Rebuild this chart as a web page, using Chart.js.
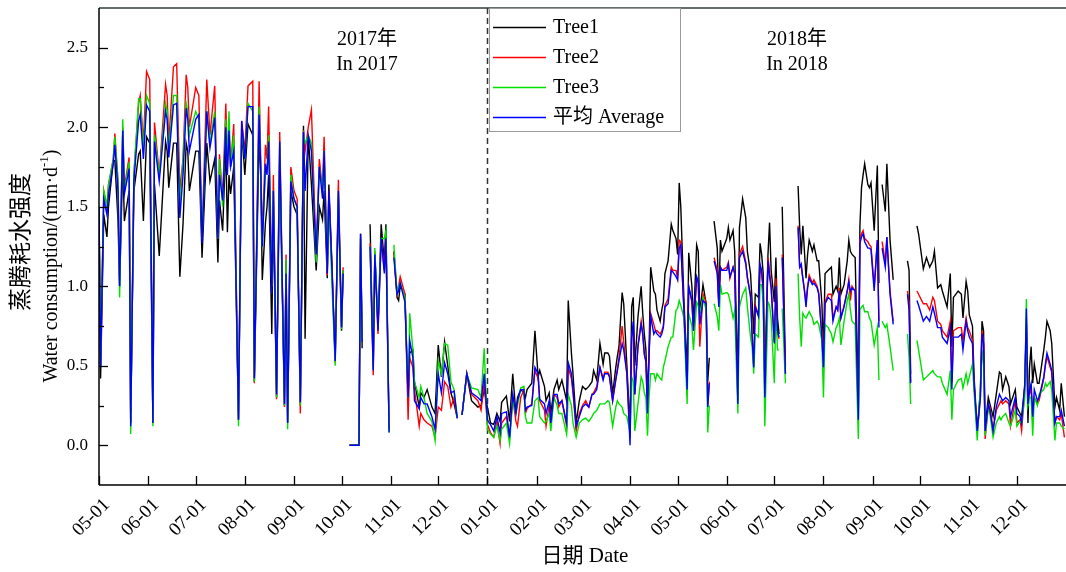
<!DOCTYPE html>
<html>
<head>
<meta charset="utf-8">
<script src="https://cdn.jsdelivr.net/npm/chart.js@4.4.0/dist/chart.umd.min.js"></script>
<style>
  html, body { margin: 0; padding: 0; background: #fff; }
  #wrap { width: 1066px; height: 572px; }
</style>
</head>
<body>
<div id="wrap"><canvas id="chart" width="1066" height="572"></canvas></div>
<script>
// day index counted from 2017-05-01 (0) to 2018-12-31 (609)
const DAYS = [
  0,1,3,5,6,9,10,12,13,15,
  16,19,20,22,25,26,28,30,32,34,
  35,38,42,43,44,47,49,51,53,55,
  56,57,61,63,65,68,70,73,75,76,
  78,80,81,82,83,85,88,90,92,94,
  97,98,101,102,103,105,106,107,109,110,
  112,114,117,118,119,121,123,125,127,129,
  130,132,134,137,139,141,142,144,145,147,
  149,151,153,154,156,158,164,165,166,168,
  171,173,174,176,178,180,181,183,184,186,
  188,189,190,193,195,196,198,199,202,203,
  205,207,210,212,214,216,218,220,222,224,
  226,227,229,232,235,239,241,243,245,247,
  249,251,253,254,257,259,261,263,264,266,
  268,269,270,273,275,277,278,281,282,284,
  285,287,289,290,292,295,296,298,299,301,
  303,305,307,309,311,312,314,316,318,319,
  321,322,324,326,327,328,330,331,333,335,
  336,337,338,340,342,343,344,345,346,347,
  348,350,351,352,354,355,356,357,359,361,
  362,364,365,366,367,369,371,372,374,375,
  377,378,379,381,383,384,385,386,388,390,
  391,392,393,396,397,398,400,401,403,404,
  406,408,409,411,412,413,414,416,417,418,
  419,420,422,423,424,426,427,428,429,430,
  431,433,434,441,442,443,444,445,446,447,
  448,450,451,453,454,456,457,458,460,462,
  463,465,466,467,468,470,472,473,474,475,
  477,479,480,481,482,483,485,486,487,489,
  491,492,493,494,496,497,499,501,502,510,
  511,512,513,516,517,520,522,524,526,527,
  529,531,532,535,537,538,539,542,544,545,
  547,548,549,551,552,554,556,557,558,559,
  561,562,564,566,568,569,570,572,574,575,
  578,579,581,582,584,585,586,587,588,589,
  590,592,593,596,597,598,600,601,603,604,
  606,607,609
];

const TREE1 = [
  1.45,0.42,1.45,1.31,1.5,1.79,1.79,1.41,1.0,1.8,
  1.41,1.6,0.14,1.6,1.83,1.85,1.41,1.94,1.9,0.14,
  1.64,1.19,1.91,1.85,1.62,1.9,1.9,1.06,1.39,1.9,
  1.85,1.6,1.85,1.85,1.18,1.9,1.66,1.8,1.15,1.54,
  1.35,1.9,1.34,1.7,1.58,1.75,0.16,1.99,1.7,2.02,
  1.95,0.4,1.96,1.7,1.04,1.4,1.5,1.7,0.7,1.5,
  0.3,1.8,0.25,1.15,0.15,1.6,1.5,1.45,0.25,2.01,
  0.67,1.95,1.64,1.1,1.5,1.42,1.6,1.05,1.64,1.12,
  0.55,1.55,0.72,1.1,null,0,0,1.33,0.61,null,
  1.39,0.5,1.2,0.75,1.39,1.15,1.39,0.1,null,1.22,
  0.93,0.91,1.0,0.95,0.3,0.58,0.6,0.4,0.24,0.33,
  0.3,0.35,0.24,0.2,0.63,0.43,0.65,0.5,0.33,0.26,
  0.17,null,0.19,0.45,0.28,0.24,0.25,0.35,0.24,0.14,
  0.13,0.2,0.15,0.27,0.31,0.15,0.45,0.2,0.3,0.35,
  0.33,0.3,0.35,0.39,0.72,0.43,0.47,0.37,0.28,0.33,
  0.2,0.35,0.41,0.35,0.41,0.28,0.91,0.58,0.45,0.14,
  0.28,0.37,0.35,0.37,0.4,0.47,0.41,0.64,0.51,0.58,
  0.58,0.56,0.32,0.49,0.56,0.62,0.96,0.89,0.5,0.1,
  0.87,0.93,0.5,0.81,1.0,0.83,0.7,0.6,0.3,0.6,
  1.12,0.97,0.95,0.85,0.78,0.85,0.9,1.08,1.16,1.39,
  1.35,1.3,1.2,1.65,1.5,0.91,0.45,1.21,1.0,0.76,
  1.26,1.22,0.83,1.01,0.89,0.4,0.55,null,1.41,1.24,
  0.91,1.29,1.22,1.3,1.37,1.29,1.35,1.22,0.38,1.37,
  1.55,1.43,1.22,1.08,0.9,0.7,0.95,0.93,1.27,1.2,
  1.08,0.4,1.2,1.4,1.1,0.9,1.18,0.8,0.7,null,
  1.5,0.5,null,1.63,1.37,1.2,1.38,1.22,1.05,1.2,
  1.29,1.22,1.26,1.16,1.16,0.89,0.6,1.08,1.1,1.12,
  0.95,1.0,0.97,1.18,0.95,1.01,1.16,1.29,1.22,1.2,
  1.18,0.3,1.38,1.62,1.7,1.77,1.64,1.62,1.65,1.35,
  1.76,1.02,null,1.64,1.47,1.77,1.29,1.04,null,1.16,
  1.1,0.45,null,1.38,1.33,1.11,1.18,1.12,1.16,1.22,
  0.99,1.01,0.97,0.87,1.08,0.62,0.93,0.97,0.95,0.8,
  1.03,0.97,0.82,0.75,0.43,0.1,0.34,0.78,0.72,0.12,
  0.3,0.26,0.18,0.32,0.46,0.45,0.35,0.43,0.37,0.26,
  0.35,0.24,0.2,0.18,0.37,0.76,0.14,0.49,0.62,0.39,
  0.51,0.39,0.39,0.6,0.68,0.78,0.72,0.64,0.24,0.3,
  0.22,0.39,0.18
];

const TREE2 = [
  1.5,0.5,1.6,1.5,1.64,1.8,1.96,1.66,1.04,2.0,
  1.62,1.81,0.14,1.7,2.15,2.2,1.9,2.35,2.3,0.14,
  2.03,1.7,2.27,2.2,1.9,2.38,2.4,1.6,1.8,2.33,
  2.25,2.0,2.25,2.2,1.3,2.3,1.95,2.26,1.3,1.83,
  1.55,2.15,1.75,2.0,1.75,2.02,0.16,2.04,1.85,2.26,
  2.29,0.39,2.29,1.8,1.3,1.89,1.8,2.13,1.0,1.7,
  0.29,1.97,0.24,1.2,0.14,1.75,1.6,1.55,0.2,1.98,
  1.85,2.0,2.11,1.2,1.8,1.6,1.94,1.07,1.6,1.1,
  0.52,1.67,0.74,1.12,null,0,0,1.3,0.65,null,
  1.27,0.44,1.22,0.7,1.3,1.1,1.3,0.1,null,1.22,
  0.95,1.0,1.06,0.95,0.16,0.55,0.49,0.35,0.12,0.2,
  0.16,0.14,0.12,0.05,0.24,0.22,0.4,0.37,0.24,0.3,
  0.17,null,0.19,0.45,0.32,0.28,0.22,0.4,0.13,0.08,
  0.05,0.15,0.01,0.14,0.18,0.05,0.3,0.15,0.12,0.3,
  0.35,0.2,0.23,0.26,0.47,0.42,0.28,0.22,0.12,0.26,
  0.12,0.32,0.3,0.24,0.28,0.12,0.49,0.42,0.33,0.09,
  0.2,0.25,0.28,0.24,0.32,0.33,0.37,0.49,0.42,0.46,
  0.46,0.44,0.28,0.42,0.48,0.55,0.75,0.65,0.45,0.05,
  0.68,0.75,0.32,0.63,0.78,0.7,0.58,0.52,0.22,0.58,
  0.83,0.76,0.72,0.72,0.7,0.72,0.75,0.88,0.92,1.12,
  1.1,1.1,1.05,1.29,1.28,0.85,0.35,1.0,0.9,0.72,
  1.05,1.02,0.62,0.95,0.9,0.25,0.4,null,1.18,1.1,
  0.88,1.12,1.1,1.12,1.15,1.05,1.12,1.08,0.28,1.2,
  1.25,1.15,1.05,0.95,0.7,0.5,0.88,0.82,1.12,1.08,
  0.98,0.3,1.18,1.1,1.0,0.65,1.05,0.7,0.67,null,
  1.2,0.45,null,1.38,1.12,1.12,1.05,0.98,0.9,1.0,
  1.07,1.02,1.04,1.0,0.96,0.7,0.5,0.9,0.95,0.95,
  0.8,0.87,0.85,0.99,0.8,0.88,0.97,1.04,0.91,1.0,
  0.97,0.15,1.29,1.33,1.35,1.3,1.28,1.26,1.25,1.0,
  1.29,0.78,null,1.28,1.15,1.31,0.97,0.78,null,0.97,
  0.9,0.4,null,0.97,0.95,0.89,0.89,0.85,0.93,0.91,
  0.78,0.76,0.72,0.68,0.78,0.4,0.72,0.74,0.74,0.66,
  0.8,0.74,0.72,0.66,0.38,0.08,0.3,0.72,0.64,0.04,
  0.25,0.24,0.1,0.22,0.26,0.28,0.26,0.28,0.26,0.12,
  0.28,0.14,0.16,0.09,0.35,0.8,0.3,0.32,0.36,0.2,
  0.3,0.26,0.28,0.42,0.5,0.56,0.49,0.46,0.14,0.18,
  0.16,0.2,0.05
];

const TREE3 = [
  1.5,0.5,1.6,1.5,1.64,1.8,1.94,1.66,0.93,2.05,
  1.6,1.78,0.07,1.7,2.18,2.18,1.85,2.2,2.15,0.12,
  1.95,1.7,2.15,2.1,1.85,2.2,2.2,1.5,1.8,2.15,
  2.1,1.95,2.1,2.05,1.3,2.1,1.9,2.1,1.3,1.8,
  1.5,2.05,1.8,2.1,1.75,1.95,0.12,2.0,1.8,2.15,
  2.1,0.4,2.13,1.75,1.25,1.75,1.75,1.95,1.0,1.6,
  0.3,1.9,0.25,1.17,0.1,1.7,1.55,1.5,0.25,1.95,
  1.9,1.95,1.9,1.15,1.75,1.6,1.85,1.1,1.55,1.0,
  0.5,1.6,0.73,1.1,null,0,0,1.3,0.65,null,
  1.25,0.48,1.24,0.75,1.3,1.3,1.35,0.08,null,1.26,
  0.96,1.0,1.02,0.93,0.3,0.83,0.6,0.4,0.3,0.37,
  0.3,0.2,0.15,0.03,0.53,0.45,0.64,0.63,0.4,0.35,
  0.17,null,0.19,0.45,0.36,0.35,0.3,0.61,0.1,0.07,
  0.05,0.12,0.03,0.1,0.14,0.01,0.28,0.2,0.25,0.36,
  0.37,0.18,0.14,0.14,0.28,0.3,0.18,0.14,0.15,0.2,
  0.09,0.3,0.25,0.2,0.2,0.07,0.32,0.25,0.14,0.05,
  0.14,0.16,0.17,0.15,0.18,0.2,0.22,0.26,0.26,0.26,
  0.28,0.27,0.12,0.24,0.28,0.26,0.24,0.2,0.18,0.08,
  0.43,0.4,0.09,0.26,0.43,0.4,0.33,0.3,0.06,0.3,
  0.45,0.45,0.41,0.45,0.42,0.41,0.49,0.53,0.62,0.68,
  0.68,0.85,0.86,0.91,0.88,0.8,0.26,0.83,0.75,0.6,
  0.9,0.88,0.83,0.93,0.85,0.08,0.25,null,0.89,0.81,
  0.72,1.01,0.95,0.96,0.95,0.91,0.8,0.85,0.2,0.87,
  0.95,0.99,0.87,0.68,0.62,0.45,0.7,0.68,1.01,1.01,
  0.9,0.12,0.9,0.88,0.8,0.39,0.85,0.6,0.6,null,
  0.86,0.39,null,1.08,0.8,0.62,0.83,0.81,0.8,0.82,
  0.84,0.8,0.76,0.78,0.76,0.66,0.3,0.76,0.74,0.7,
  0.65,0.74,0.76,0.8,0.63,0.78,0.91,0.95,0.85,0.78,
  0.76,0.04,0.85,0.87,0.88,0.84,0.84,0.8,0.78,0.63,
  0.74,0.41,null,0.78,0.74,0.76,0.62,0.47,null,0.7,
  0.55,0.26,null,0.66,0.6,0.41,0.43,0.45,0.47,0.45,
  0.43,0.43,0.39,0.32,0.47,0.16,0.35,0.41,0.42,0.36,
  0.45,0.39,0.43,0.51,0.34,0.03,0.37,0.6,0.5,0.06,
  0.24,0.2,0.05,0.14,0.18,0.16,0.18,0.2,0.14,0.12,
  0.22,0.12,0.15,0.14,0.3,0.92,0.25,0.3,0.3,0.06,
  0.3,0.25,0.32,0.35,0.39,0.37,0.4,0.35,0.03,0.14,
  0.14,0.12,0.1
];

const AVERAGE = [
  1.5,0.49,1.55,1.45,1.58,1.77,1.89,1.6,1.0,1.98,
  1.58,1.74,0.12,1.66,2.04,2.08,1.8,2.14,2.1,0.14,
  1.91,1.66,2.1,2.05,1.81,2.14,2.15,1.43,1.7,2.12,
  2.05,1.85,2.05,2.08,1.27,2.1,1.87,2.06,1.3,1.7,
  1.54,2.0,1.7,1.98,1.75,1.85,0.16,2.04,1.8,2.13,
  2.13,0.42,2.08,1.75,1.25,1.77,1.7,1.91,0.95,1.6,
  0.32,1.91,0.26,1.08,0.14,1.66,1.55,1.5,0.27,1.97,
  1.6,1.95,1.85,1.2,1.75,1.55,1.85,1.08,1.6,1.1,
  0.53,1.6,0.74,1.08,null,0,0,1.33,0.65,null,
  1.25,0.47,1.2,0.72,1.3,1.08,1.3,0.08,null,1.18,
  0.95,0.97,1.02,0.9,0.3,0.66,0.55,0.28,0.23,0.3,
  0.26,0.26,0.18,0.1,0.45,0.33,0.52,0.45,0.33,0.34,
  0.17,null,0.19,0.45,0.33,0.3,0.28,0.45,0.16,0.13,
  0.09,0.18,0.08,0.2,0.21,0.05,0.32,0.2,0.28,0.35,
  0.35,0.22,0.24,0.25,0.49,0.45,0.29,0.26,0.2,0.28,
  0.14,0.32,0.32,0.26,0.28,0.14,0.52,0.45,0.35,0.12,
  0.18,0.24,0.26,0.24,0.32,0.32,0.35,0.49,0.41,0.45,
  0.45,0.43,0.28,0.41,0.47,0.53,0.64,0.6,0.45,0.0,
  0.68,0.78,0.32,0.62,0.76,0.7,0.57,0.53,0.2,0.57,
  0.81,0.7,0.72,0.7,0.68,0.7,0.74,0.87,0.89,1.1,
  1.09,1.06,1.04,1.24,1.26,0.85,0.35,1.0,0.91,0.72,
  1.06,1.03,0.76,0.91,0.89,0.24,0.39,null,1.16,1.08,
  0.87,1.12,1.1,1.1,1.14,1.06,1.12,1.08,0.26,1.18,
  1.22,1.14,1.06,0.93,0.68,0.49,0.87,0.81,1.14,1.1,
  0.97,0.3,1.16,1.06,0.99,0.64,1.0,0.72,0.68,null,
  1.18,0.45,null,1.37,1.12,1.14,1.05,0.97,0.87,0.99,
  1.05,1.01,1.02,0.99,0.95,0.68,0.49,0.89,0.93,0.91,
  0.78,0.87,0.85,0.97,0.8,0.87,0.97,1.03,0.97,0.99,
  0.97,0.16,1.27,1.31,1.33,1.28,1.24,1.24,1.23,0.97,
  1.29,0.74,null,1.24,1.12,1.31,0.95,0.76,null,0.95,
  0.85,0.39,null,0.91,0.88,0.78,0.81,0.78,0.87,0.83,
  0.74,0.74,0.68,0.64,0.74,0.35,0.68,0.68,0.7,0.6,
  0.78,0.72,0.68,0.64,0.39,0.09,0.3,0.7,0.64,0.09,
  0.26,0.22,0.09,0.24,0.32,0.3,0.28,0.3,0.28,0.18,
  0.3,0.2,0.18,0.14,0.39,0.86,0.26,0.35,0.39,0.18,
  0.35,0.28,0.3,0.43,0.51,0.58,0.51,0.47,0.14,0.18,
  0.18,0.22,0.12
];

const MONTH_DAYS = [0,31,61,92,123,153,184,214,245,276,304,335,365,396,426,457,488,518,549,579];
const MONTH_LABELS = ['05-01','06-01','07-01','08-01','09-01','10-01','11-01','12-01',
  '01-01','02-01','03-01','04-01','05-01','06-01','07-01','08-01','09-01','10-01','11-01','12-01'];
const Y_TICKS = [0, 0.5, 1, 1.5, 2, 2.5];
const SERIES_NAMES = ['Tree1', 'Tree2', 'Tree3', '平均 Average'];
const SERIES_COLORS = ['#000000', '#ff0000', '#00e000', '#0000ff'];
const YEAR_SPLIT_DAY = 245;

const FONT = '"Liberation Serif", "Times New Roman", "Noto Sans CJK SC", serif';

function toPoints(vals) {
  return DAYS.map((d, i) => ({ x: d, y: vals[i] }));
}

function strokeLine(ctx, x1, y1, x2, y2) {
  ctx.beginPath();
  ctx.moveTo(x1, y1);
  ctx.lineTo(x2, y2);
  ctx.stroke();
}

// dashed year split, frame, ticks, labels, legend, texts
const framePlugin = {
  id: 'frame',
  beforeDatasetsDraw(chart) {
    const { ctx, chartArea: a, scales: { x } } = chart;
    const xd = Math.round(x.getPixelForValue(YEAR_SPLIT_DAY)) + 0.5;
    ctx.save();
    ctx.strokeStyle = '#333';
    ctx.lineWidth = 1.5;
    ctx.setLineDash([6, 4]);
    strokeLine(ctx, xd, a.top, xd, a.bottom);
    ctx.restore();
  },
  afterDraw(chart) {
    const { ctx, chartArea: a, scales: { x, y } } = chart;
    ctx.save();

    // top frame + axes
    ctx.strokeStyle = '#2f3d3d';
    ctx.lineWidth = 1.5;
    strokeLine(ctx, a.left, a.top, a.right, a.top);
    ctx.strokeStyle = '#000';
    strokeLine(ctx, a.left, a.top, a.left, a.bottom);
    strokeLine(ctx, a.left, a.bottom, a.right, a.bottom);

    // inward ticks
    ctx.lineWidth = 1.3;
    MONTH_DAYS.forEach(d => {
      const px = Math.round(x.getPixelForValue(d)) + 0.5;
      strokeLine(ctx, px, a.bottom, px, a.bottom - 9);
    });
    for (let k = 0; k <= 10; k++) {
      const v = k * 0.25;
      const py = Math.round(y.getPixelForValue(v)) + 0.5;
      strokeLine(ctx, a.left, py, a.left + (k % 2 === 0 ? 9 : 5), py);
    }

    // tick labels
    ctx.fillStyle = '#000';
    ctx.font = '17px ' + FONT;
    ctx.textAlign = 'right';
    ctx.textBaseline = 'middle';
    Y_TICKS.forEach(v => {
      ctx.fillText(v.toFixed(1), a.left - 11, y.getPixelForValue(v));
    });
    ctx.font = '19px ' + FONT;
    MONTH_DAYS.forEach((d, i) => {
      const px = x.getPixelForValue(d);
      ctx.save();
      ctx.translate(px + 8, a.bottom + 17);
      ctx.rotate(-Math.PI / 4);
      ctx.fillText(MONTH_LABELS[i], 0, 0);
      ctx.restore();
    });

    // axis titles
    ctx.textAlign = 'center';
    ctx.font = '21px ' + FONT;
    ctx.fillText('日期 Date', 585, 556);

    ctx.save();
    ctx.translate(22, 242);
    ctx.rotate(-Math.PI / 2);
    ctx.font = '23px ' + FONT;
    ctx.fillText('蒸腾耗水强度', 0, 0);
    ctx.restore();

    ctx.save();
    ctx.translate(52, 266);
    ctx.rotate(-Math.PI / 2);
    ctx.textAlign = 'left';
    const main = 'Water consumption/(mm\u00b7d';
    ctx.font = '20px ' + FONT;
    const w1 = ctx.measureText(main).width;
    const w3 = ctx.measureText(')').width;
    ctx.font = '13px ' + FONT;
    const w2 = ctx.measureText('-1').width;
    let cx = -(w1 + w2 + w3) / 2;
    ctx.font = '20px ' + FONT;
    ctx.fillText(main, cx, 0);
    cx += w1;
    ctx.font = '13px ' + FONT;
    ctx.fillText('-1', cx, -7);
    cx += w2;
    ctx.font = '20px ' + FONT;
    ctx.fillText(')', cx, 0);
    ctx.restore();

    // year notes
    ctx.font = '20px ' + FONT;
    ctx.fillText('2017年', 367, 40);
    ctx.fillText('In 2017', 367, 65);
    ctx.fillText('2018年', 797, 40);
    ctx.fillText('In 2018', 797, 65);

    // legend box
    ctx.fillStyle = '#fff';
    ctx.fillRect(489.5, 8.5, 191, 123);
    ctx.strokeStyle = '#9a9a9a';
    ctx.lineWidth = 1;
    ctx.strokeRect(489.5, 8.5, 191, 123);
    ctx.textAlign = 'left';
    ctx.font = '20px ' + FONT;
    SERIES_NAMES.forEach((name, i) => {
      const ly = 27 + i * 30;
      ctx.strokeStyle = SERIES_COLORS[i];
      ctx.lineWidth = 1.3;
      strokeLine(ctx, 493, ly + 0.5, 546, ly + 0.5);
      ctx.fillStyle = '#000';
      ctx.fillText(name, 553, ly + 1);
    });

    ctx.restore();
  }
};

const seriesValues = [TREE1, TREE2, TREE3, AVERAGE];
const datasets = seriesValues.map((vals, i) => ({
  label: SERIES_NAMES[i],
  data: toPoints(vals),
  borderColor: SERIES_COLORS[i],
  backgroundColor: SERIES_COLORS[i],
  borderWidth: 1.4,
  pointRadius: 0,
  tension: 0,
  spanGaps: false,
  order: 4 - i
}));

new Chart(document.getElementById('chart'), {
  type: 'line',
  data: { datasets },
  options: {
    responsive: false,
    animation: false,
    devicePixelRatio: 1,
    layout: { padding: { left: 99, top: 8, right: 0, bottom: 87 } },
    plugins: { legend: { display: false }, tooltip: { enabled: false } },
    scales: {
      x: { type: 'linear', min: 0, max: 610, display: false },
      y: { type: 'linear', min: -0.25, max: 2.75, display: false }
    }
  },
  plugins: [framePlugin]
});
</script>
</body>
</html>
